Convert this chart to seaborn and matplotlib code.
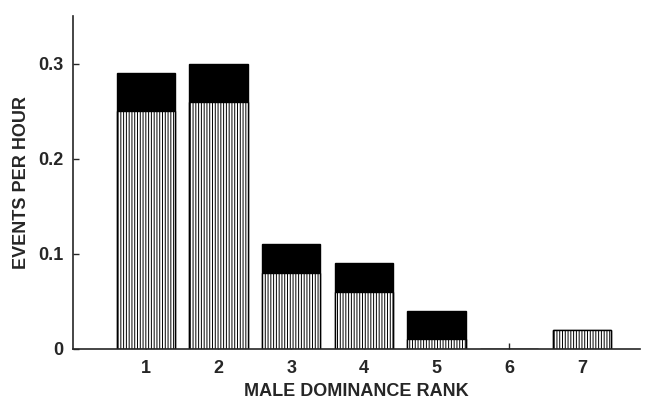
import pandas as pd
import matplotlib
matplotlib.use('Agg')
import matplotlib.pyplot as plt
import seaborn as sns

# Values
ranks = ['1', '2', '3', '4', '5', '6', '7']
hatched = [0.25, 0.26, 0.08, 0.06, 0.01, 0.0, 0.02]
totals = [0.29, 0.30, 0.11, 0.09, 0.04, 0.0, 0.02]

data = pd.DataFrame({'rank': ranks, 'hatched': hatched, 'total': totals})

sns.set_style('ticks')
plt.rcParams['font.family'] = ['Liberation Sans', 'DejaVu Sans']
plt.rcParams['hatch.linewidth'] = 0.7

fig = plt.figure(figsize=(6.59, 4.01), dpi=100)
ax = fig.add_axes([0.111, 0.130, 0.860, 0.830])

# black top segment = full total, hatched part drawn over it
sns.barplot(x='rank', y='total', data=data, color='black', width=0.8,
            edgecolor='black', linewidth=1, saturation=1, ax=ax)
sns.barplot(x='rank', y='hatched', data=data, color='white', width=0.8,
            edgecolor='black', linewidth=1, saturation=1, ax=ax)
for p in ax.patches[len(ranks):]:
    p.set_hatch('||||||')

ax.set_xlim(-1, 6.8)
ax.set_ylim(0, 0.35)
ax.set_yticks([0, 0.1, 0.2, 0.3])
ax.set_yticklabels(['0', '0.1', '0.2', '0.3'])
ax.tick_params(direction='in', length=4, width=1, labelsize=13)
ax.tick_params(axis='x', pad=8)
ax.tick_params(axis='y', pad=7)
for lab in ax.get_xticklabels() + ax.get_yticklabels():
    lab.set_fontweight('bold')

ax.set_xlabel('MALE DOMINANCE RANK', fontsize=13, fontweight='bold', labelpad=4)
ax.set_ylabel('EVENTS PER HOUR', fontsize=13, fontweight='bold', labelpad=6)

sns.despine(ax=ax)
for s in ['left', 'bottom']:
    ax.spines[s].set_linewidth(1.2)

fig.savefig('out.png', dpi=100)
